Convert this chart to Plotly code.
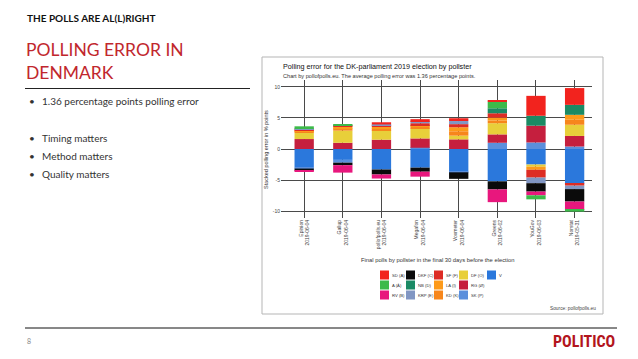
import plotly.graph_objects as go

# ---------------- data ----------------
pollsters = ["Epinion", "Gallup", "pollofpolls.eu", "Megafon", "Voxmeter", "Greens", "YouGov", "Norstat"]
poll_dates = ["2019-06-04", "2019-06-04", "2019-06-04", "2019-06-04", "2019-06-04", "2019-06-02", "2019-06-03", "2019-05-31"]

# stacking order (closest to zero first)
parties = ["V", "SK (P)", "RG (Ø)", "DF (O)", "KD (K)", "LA (I)", "SF (F)", "KRP (E)", "NB (D)", "DKF (C)", "RV (B)", "A (Å)", "SD (A)"]

err_V   = [-2.95, -1.75, -3.3, -3.0, -3.65, -5.2, -2.5, -5.6]
err_SK  = [-0.2, -0.45, 0.0, 0.2, -0.1, 1.0, 1.05, 0.4]
err_RG  = [1.6, 1.0, 1.5, 1.5, 1.55, 1.35, 2.7, 1.7]
err_DF  = [1.0, 1.95, 1.5, 1.6, 0.6, 1.8, -0.35, 1.8]
err_KD  = [0.2, 0.35, 0.3, 0.3, 0.7, 0.45, 0.0, 0.8]
err_LA  = [0.2, 0.3, 0.25, 0.25, 0.65, 0.45, -0.5, 0.8]
err_SF  = [0.2, 0.15, 0.2, 0.3, 0.5, 0.7, -1.25, -0.3]
err_KRP = [0.15, 0.0, 0.2, 0.35, 0.5, 0.0, -0.9, -0.55]
err_NB  = [0.0, 0.0, 0.0, 0.0, 0.0, 0.8, 1.6, 1.6]
err_DKF = [-0.35, -0.4, -0.8, -0.65, -1.05, -1.3, -1.35, -2.0]
err_RV  = [-0.2, -1.2, -0.65, -0.8, 0.0, -2.05, -0.6, -1.35]
err_AA  = [0.3, 0.2, 0.0, 0.0, 0.0, 1.05, -0.65, -0.27]
err_SD  = [0.0, 0.0, 0.35, 0.3, 0.45, 0.27, 3.2, 2.7]

series = [err_V, err_SK, err_RG, err_DF, err_KD, err_LA, err_SF, err_KRP, err_NB, err_DKF, err_RV, err_AA, err_SD]
colors = ["#2b78dc", "#5b8fdc", "#c51f3e", "#e8cf3a", "#f7861c", "#fd9a1a", "#dd2c24", "#8196c3",
          "#1b8a64", "#0b0b0b", "#e8177d", "#3dba4a", "#f2231e"]

# legend order (ggplot column-major grid, 5 columns x 3 rows, listed row-wise)
legend_rows = [["SD (A)", "DKF (C)", "SF (F)", "DF (O)", "V"],
               ["A (Å)", "NB (D)", "LA (I)", "RG (Ø)"],
               ["RV (B)", "KRP (E)", "KD (K)", "SK (P)"]]

y_ticks = [10, 5, 0, -5, -10]

bullets = ["1.36 percentage points polling error", "", "Timing matters", "Method matters", "Quality matters"]

# ---------------- figure ----------------
W, H = 638, 359
def px(x):
    return x / W
def py(y):
    return 1 - y / H

cats = [f"{p}<br>{d}" for p, d in zip(pollsters, poll_dates)]

fig = go.Figure()
for name, vals, col in zip(parties, series, colors):
    fig.add_trace(go.Bar(x=cats, y=vals, name=name, marker_color=col,
                         marker_line_width=0, width=0.5, showlegend=False))

chart_font = "Liberation Sans, Arial, sans-serif"
slide_font = "Lato, Open Sans, sans-serif"

fig.update_layout(
    width=W, height=H, barmode="relative",
    margin=dict(l=0, r=0, t=0, b=0),
    paper_bgcolor="white", plot_bgcolor="white",
    xaxis=dict(domain=[px(281), px(592)], range=[-0.6, 7.45], showgrid=True,
               gridcolor="#4a4a4a", gridwidth=0.8, tickangle=-90,
               tickfont=dict(size=5, family=chart_font, color="#444"),
               zeroline=False, showline=False, ticks=""),
    yaxis=dict(domain=[py(218), py(80)], range=[-11.1, 11.1], tickvals=y_ticks,
               ticktext=[str(v) for v in y_ticks], showgrid=True, gridcolor="#4a4a4a",
               gridwidth=0.8, zeroline=False, showline=False, ticks="",
               tickfont=dict(size=5, family=chart_font, color="#444")),
    font=dict(family=chart_font),
)

shapes = []
ann = []

def note(text, x, y, size, color, family, xanchor="left", **kw):
    ann.append(dict(text=text, x=px(x), y=py(y), xref="paper", yref="paper",
                    xanchor=xanchor, yanchor="middle", showarrow=False,
                    font=dict(size=size, color=color, family=family), **kw))

# embedded chart frame
shapes.append(dict(type="rect", xref="paper", yref="paper", x0=px(262), x1=px(603),
                   y0=py(314), y1=py(57), line=dict(color="#b5b5b5", width=1)))
# chart title / subtitle / axis titles
note("Polling error for the DK-parliament 2019 election by pollster", 281, 66, 7.2, "#111", chart_font)
note("Chart by pollofpolls.eu. The average polling error was 1.36 percentage points.", 281, 76, 5.6, "#333", chart_font)
note("Stacked polling error in % points", 266, 150, 5.5, "#333", chart_font, xanchor="center", textangle=-90)
note("Final polls by pollster in the final 30 days before the election", 437, 260, 5.8, "#333", chart_font, xanchor="center")
note("Source: pollofpolls.eu", 598, 308, 4.8, "#444", chart_font, xanchor="right")

# chart legend (grid of swatches)
col_x = [380, 406, 434, 459, 487]
row_y = [275, 285, 295]
color_of = dict(zip(parties, colors))
for r, row in enumerate(legend_rows):
    for c, name in enumerate(row):
        x0 = col_x[c]
        yc = row_y[r]
        shapes.append(dict(type="rect", xref="paper", yref="paper",
                           x0=px(x0), x1=px(x0 + 9), y0=py(yc + 4.5), y1=py(yc - 4.5),
                           fillcolor=color_of[name], line=dict(width=0)))
        note(name, x0 + 9.5, yc, 4.2, "#333", chart_font)

# ---- slide texts ----
note("<b>THE POLLS ARE AL(L)RIGHT</b>", 25, 18, 10, "#111", slide_font)
note("POLLING ERROR IN<br>DENMARK", 24, 61, 17.5, "#c1272d", slide_font, align="left")
shapes.append(dict(type="line", xref="paper", yref="paper", x0=px(25), x1=px(250),
                   y0=py(88.5), y1=py(88.5), line=dict(color="#222", width=1)))
bullet_y = [101, 119.5, 138, 156, 174]
for txt, yb in zip(bullets, bullet_y):
    if not txt:
        continue
    note("•", 27, yb, 10, "#333", slide_font)
    note(txt, 40, yb, 10, "#333", slide_font)

# footer
shapes.append(dict(type="line", xref="paper", yref="paper", x0=px(25), x1=px(617),
                   y0=py(328), y1=py(328), line=dict(color="#111", width=1)))
note("8", 25, 341, 7, "#888", slide_font)
note("<b>POLITICO</b>", 617, 341, 16, "#b3151d",
     "Liberation Sans Narrow, Roboto Condensed, Arial Narrow, sans-serif", xanchor="right")

fig.update_layout(shapes=shapes, annotations=ann)
fig.write_html("out.html", config={"displayModeBar": False},
               post_script="document.body.style.margin='0';")
